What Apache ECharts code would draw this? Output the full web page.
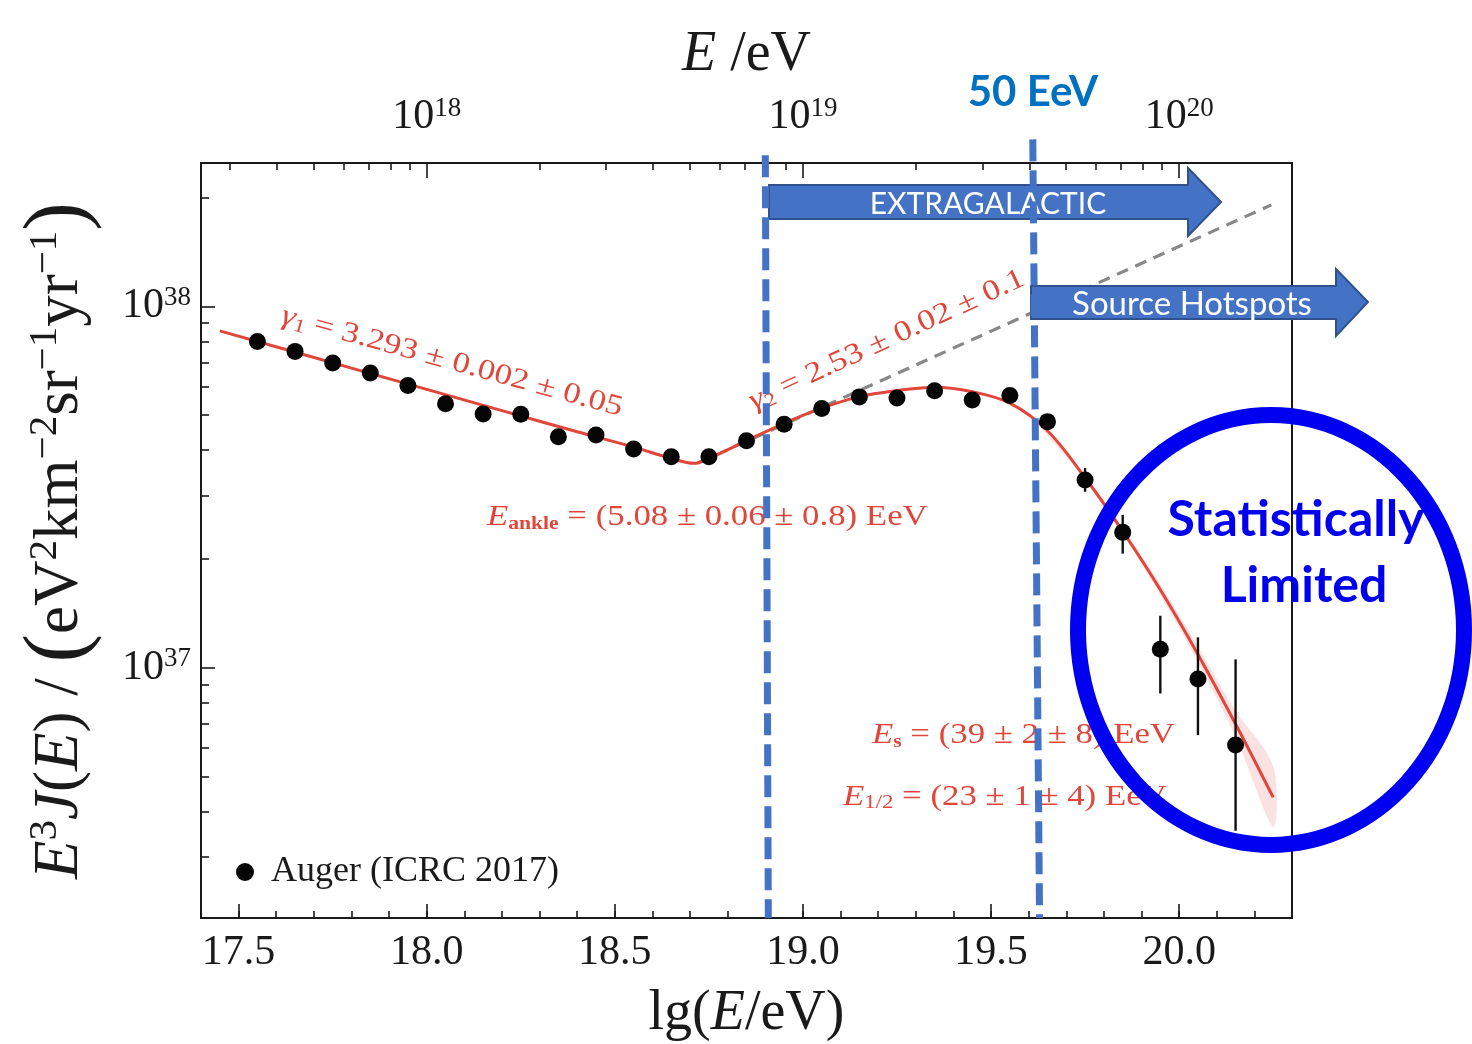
<!DOCTYPE html>
<html><head><meta charset="utf-8">
<script src="https://cdn.jsdelivr.net/npm/echarts@6/dist/echarts.min.js"></script>
<style>html,body{margin:0;padding:0;background:#fff;}#c{width:1472px;height:1044px;}</style>
</head><body><div id="c"></div>
<script>
// ---------------- data ----------------
const augerLg   = [17.55,17.65,17.75,17.85,17.95,18.05,18.15,18.25,18.35,18.45,18.55,18.65,18.75,18.85,18.95,19.05,19.15,19.25,19.35,19.45,19.55,19.65,19.75,19.85,19.95,20.05,20.15];
const augerFlux = [8.00e37,7.51e37,6.97e37,6.54e37,6.04e37,5.38e37,5.04e37,5.03e37,4.36e37,4.41e37,4.03e37,3.84e37,3.84e37,4.25e37,4.72e37,5.22e37,5.62e37,5.58e37,5.84e37,5.51e37,5.67e37,4.80e37,3.31e37,2.37e37,1.125e37,9.31e36,6.11e36];
const errLg   = [19.75,19.85,19.95,20.05,20.15];
const errLow  = [3.07e37,2.07e37,8.49e36,6.51e36,3.54e36];
const errHigh = [3.57e37,2.65e37,1.393e37,1.214e37,1.055e37];
const fitLg   = [17.45,17.8,18.2,18.4,18.55,18.65,18.71,18.75,18.85,18.95,19.05,19.15,19.25,19.35,19.45,19.55,19.65,19.75,19.85,19.95,20.05,20.15,20.25];
const fitFlux = [8.56e37,6.75e37,5.15e37,4.50e37,4.08e37,3.80e37,3.68e37,3.80e37,4.25e37,4.75e37,5.23e37,5.63e37,5.85e37,5.98e37,5.81e37,5.40e37,4.53e37,3.357e37,2.387e37,1.644e37,1.089e37,6.99e36,4.38e36];
const bandLg   = [19.62,19.75,19.85,19.95,20.05,20.15,20.25];
const bandLow  = [4.78e37,3.32e37,2.34e37,1.59e37,1.035e37,6.45e36,3.62e36];
const bandHigh = [4.84e37,3.40e37,2.44e37,1.70e37,1.145e37,7.60e36,5.35e36];
const extrapLg   = [18.72,20.245];
const extrapFlux = [3.68e37,1.91e38];
// blue dashed guides: lg at top, flux at top, lg at bottom
const guideLgTop    = [18.900,19.611];
const guideFluxTop  = [2.62e38,2.90e38];
const guideLgBottom = [18.908,19.629];
// axes
const X_MIN = 17.4, X_MAX = 20.3;
const Y_MIN_EXP = 36.3075, Y_MAX_EXP = 38.397;
const bottomTickLabels = [17.5,18.0,18.5,19.0,19.5,20.0];
const topTickExponents = [18,19,20];
const yTickExponents   = [37,38];

// ---------------- helpers ----------------
const SERIF = "'Liberation Serif','Times New Roman',serif";
const INK = '#1a1a1a';
const RED = '#e2453a';
const bottomMinor = []; for (let i = 174; i <= 203; i++) bottomMinor.push(i / 10);
const topMinor = []; for (let n = 17; n <= 20; n++) for (let k = 2; k <= 9; k++) { const v = n + Math.log10(k); if (v > X_MIN && v < X_MAX) topMinor.push(v); }
const yMinor = []; for (let n = 36; n <= 38; n++) for (let k = 2; k <= 9; k++) { const v = n + Math.log10(k); if (v > Y_MIN_EXP && v < Y_MAX_EXP) yMinor.push(v); }

const supRich = {
  b: {fontFamily: SERIF, fontSize: 42, color: INK, lineHeight: 44},
  s: {fontFamily: SERIF, fontSize: 27, color: INK, lineHeight: 20, verticalAlign: 'top'}
};
const tickLine = {color: INK, width: 1.6};
const baseX = {type: 'value', min: X_MIN, max: X_MAX, axisLine: {show: false}, splitLine: {show: false}};
const baseYExp = {type: 'value', min: Y_MIN_EXP, max: Y_MAX_EXP, axisLine: {show: false}, splitLine: {show: false}, position: 'left'};

function bandRender(params, api) {
  if (params.dataIndex !== 0) return null;
  const up = bandLg.map((x, i) => api.coord([x, bandHigh[i]]));
  const lo = bandLg.map((x, i) => api.coord([x, bandLow[i]])).reverse();
  return {type: 'polygon', shape: {points: up.concat(lo), smooth: 0.3}, style: {fill: 'rgba(230,110,110,0.2)'}};
}
function errRender(params, api) {
  const a = api.coord([api.value(0), api.value(1)]);
  const b = api.coord([api.value(0), api.value(2)]);
  return {type: 'line', shape: {x1: a[0], y1: a[1], x2: b[0], y2: b[1]}, style: {stroke: '#111', lineWidth: 2.4}};
}
function guideRender(params, api) {
  const a = api.coord([api.value(0), api.value(1)]);
  const b = api.coord([api.value(2), api.value(3)]);
  return {type: 'line', shape: {x1: a[0], y1: a[1], x2: b[0], y2: b[1]}, style: {stroke: '#4472C4', lineWidth: 7, lineDash: [22, 9]}};
}

const redRich = {
  e: {fontFamily: SERIF, fontStyle: 'italic', fontSize: 29, color: RED, lineHeight: 32},
  n: {fontFamily: SERIF, fontSize: 29, color: RED, lineHeight: 32},
  sub: {fontFamily: SERIF, fontSize: 19, color: RED, lineHeight: 15, verticalAlign: 'bottom'},
  subb: {fontFamily: SERIF, fontSize: 18, fontWeight: 'bold', color: RED, lineHeight: 15, verticalAlign: 'bottom'}
};
function redText(x, y, text, rot, align) {
  return {type: 'text', x: x, y: y, rotation: rot || 0, scaleX: 1.2, z: 10, silent: true,
    style: {text: text, rich: redRich, align: align || 'left', verticalAlign: 'middle', fill: RED}};
}

const chart = echarts.init(document.getElementById('c'));
chart.setOption({
  animation: false,
  backgroundColor: '#fff',
  grid: {left: 201, right: 180, top: 163, bottom: 126, show: true, borderColor: INK, borderWidth: 2, containLabel: false, outerBoundsMode: 'none'},
  legend: {
    data: [{name: 'Auger (ICRC 2017)', icon: 'circle'}], selectedMode: false,
    left: 236, top: 854, padding: 0, itemWidth: 18, itemHeight: 18,
    textStyle: {fontFamily: SERIF, fontSize: 36, color: INK, padding: [0, 0, 0, 12]}
  },
  xAxis: [
    Object.assign({}, baseX, {position: 'bottom',
      axisTick: {inside: true, length: 14, customValues: bottomTickLabels, lineStyle: tickLine},
      axisLabel: {customValues: bottomTickLabels, formatter: v => v.toFixed(1), fontFamily: SERIF, fontSize: 42, color: INK, margin: 14},
      name: '{n|lg(}{i|E}{n|/eV)}', nameLocation: 'middle', nameGap: 68,
      nameTextStyle: {rich: {n: {fontFamily: SERIF, fontSize: 56, color: INK}, i: {fontFamily: SERIF, fontStyle: 'italic', fontSize: 56, color: INK}}}}),
    Object.assign({}, baseX, {position: 'bottom',
      axisTick: {inside: true, length: 7, customValues: bottomMinor, lineStyle: tickLine},
      axisLabel: {show: false}}),
    Object.assign({}, baseX, {position: 'top',
      axisTick: {inside: true, length: 15, customValues: topTickExponents, lineStyle: tickLine},
      axisLabel: {customValues: topTickExponents, formatter: v => '{b|10}{s|' + v + '}', rich: supRich, margin: 24},
      name: '{i|E}{n| /eV}', nameLocation: 'middle', nameGap: 80,
      nameTextStyle: {rich: {n: {fontFamily: SERIF, fontSize: 56, color: INK}, i: {fontFamily: SERIF, fontStyle: 'italic', fontSize: 56, color: INK}}}}),
    Object.assign({}, baseX, {position: 'top',
      axisTick: {inside: true, length: 7, customValues: topMinor, lineStyle: tickLine},
      axisLabel: {show: false}})
  ],
  yAxis: [
    {type: 'log', logBase: 10, min: Math.pow(10, Y_MIN_EXP), max: Math.pow(10, Y_MAX_EXP), show: false},
    Object.assign({}, baseYExp, {
      axisTick: {inside: true, length: 14, customValues: yTickExponents, lineStyle: tickLine},
      axisLabel: {customValues: yTickExponents, formatter: v => '{b|10}{s|' + v + '}', rich: supRich, margin: 10},
      name: '{i|E}{s|3}{i|J}{n|(}{i|E}{n|) / }{p|(}{n|eV}{s|2}{n|km}{s|\u22122}{n|sr}{s|\u22121}{n|yr}{s|\u22121}{p|)}',
      nameLocation: 'middle', nameRotate: 90, nameGap: 106,
      nameTextStyle: {rich: {
        n: {fontFamily: SERIF, fontSize: 63, color: INK, lineHeight: 70},
        i: {fontFamily: SERIF, fontStyle: 'italic', fontSize: 63, color: INK, lineHeight: 70},
        s: {fontFamily: SERIF, fontSize: 41, color: INK, lineHeight: 32, verticalAlign: 'top'},
        p: {fontFamily: SERIF, fontSize: 86, color: INK, lineHeight: 70}
      }}}),
    Object.assign({}, baseYExp, {
      axisTick: {inside: true, length: 8, customValues: yMinor, lineStyle: tickLine},
      axisLabel: {show: false}})
  ],
  series: [
    {type: 'custom', name: 'band', silent: true, renderItem: bandRender, z: 2,
      data: bandLg.map((x, i) => [x, bandLow[i], bandHigh[i]]), encode: {x: 0, y: [1, 2]}},
    {type: 'line', name: 'extrap', silent: true, symbol: 'none', z: 3,
      data: extrapLg.map((x, i) => [x, extrapFlux[i]]),
      lineStyle: {color: '#888', width: 3.2, type: [12, 8]}},
    {type: 'line', name: 'fit', silent: true, symbol: 'none', smooth: 0.35, z: 4,
      data: fitLg.map((x, i) => [x, fitFlux[i]]),
      lineStyle: {color: RED, width: 3}},
    {type: 'custom', name: 'err', silent: true, renderItem: errRender, z: 5,
      data: errLg.map((x, i) => [x, errLow[i], errHigh[i]]), encode: {x: 0, y: [1, 2]}},
    {type: 'scatter', name: 'Auger (ICRC 2017)', symbolSize: 17, z: 6,
      data: augerLg.map((x, i) => [x, augerFlux[i]]), itemStyle: {color: '#050505', opacity: 1}},
    {type: 'custom', name: 'guides', silent: true, clip: false, renderItem: guideRender, z: 35,
      data: guideLgTop.map((x, i) => [x, guideFluxTop[i], guideLgBottom[i], Math.pow(10, Y_MIN_EXP)]),
      encode: {x: [0, 2], y: [1, 3]}}
  ],
  graphic: [
    redText(452, 362, '{e|\u03b3}{sub|1}{n| = 3.293 \u00b1 0.002 \u00b1 0.05}', -0.267, 'center'),
    redText(887, 340, '{e|\u03b3}{sub|2}{n| = 2.53 \u00b1 0.02 \u00b1 0.1}', 0.431, 'center'),
    redText(487, 517, '{e|E}{subb|ankle}{n| = (5.08 \u00b1 0.06 \u00b1 0.8) EeV}'),
    redText(872, 735, '{e|E}{subb|s}{n| = (39 \u00b1 2 \u00b1 8) EeV}'),
    redText(843, 797, '{e|E}{sub|1/2}{n| = (23 \u00b1 1 \u00b1 4) EeV}'),
    {type: 'polygon', z: 30, silent: true,
      shape: {points: [[769,185],[1188,185],[1188,168],[1221,202],[1188,236],[1188,219],[769,219]]},
      style: {fill: '#4472C4', stroke: '#2F528F', lineWidth: 2}},
    {type: 'text', z: 31, silent: true, x: 988, y: 204,
      style: {text: 'EXTRAGALACTIC', fill: '#fff', font: '30px Lato', align: 'center', verticalAlign: 'middle'}},
    {type: 'polygon', z: 30, silent: true,
      shape: {points: [[1031,286],[1336,286],[1336,269],[1368,302],[1336,336],[1336,319],[1031,319]]},
      style: {fill: '#4472C4', stroke: '#2F528F', lineWidth: 2}},
    {type: 'text', z: 31, silent: true, x: 1192, y: 304,
      style: {text: 'Source Hotspots', fill: '#fff', font: '33px Lato', align: 'center', verticalAlign: 'middle'}},
    {type: 'text', z: 31, silent: true, x: 1033, y: 92,
      style: {text: '50 EeV', fill: '#0070C0', font: 'bold 42px Lato', align: 'center', verticalAlign: 'middle'}},
    {type: 'ellipse', z: 40, silent: true, shape: {cx: 1271, cy: 630, rx: 193, ry: 215},
      style: {fill: 'none', stroke: '#0000f0', lineWidth: 16}},
    {type: 'text', z: 41, silent: true, x: 1296, y: 520,
      style: {text: 'Statistically', fill: '#0000ee', font: 'bold 50px Lato', align: 'center', verticalAlign: 'middle'}},
    {type: 'text', z: 41, silent: true, x: 1304, y: 586,
      style: {text: 'Limited', fill: '#0000ee', font: 'bold 50px Lato', align: 'center', verticalAlign: 'middle'}}
  ]
});
</script></body></html>
